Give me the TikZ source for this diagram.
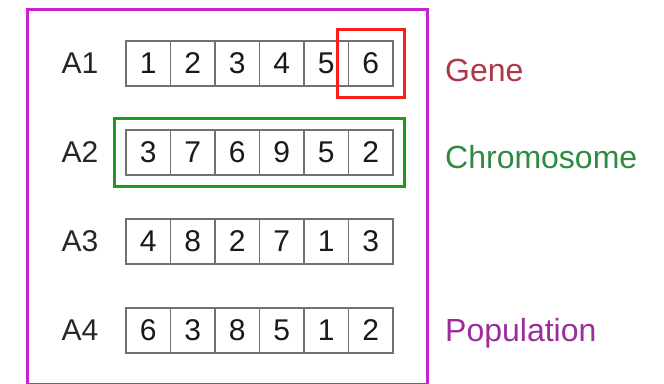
\documentclass[tikz,border=0pt]{standalone}
\usepackage{fontspec}
\setmainfont{Liberation Sans}
\usepackage{tikz}
\usetikzlibrary{positioning,fit}
\definecolor{popline}{HTML}{C823CC}
\definecolor{geneline}{HTML}{FF1E1E}
\definecolor{chromline}{HTML}{1E9A1E}
\definecolor{cellgray}{HTML}{707070}
\definecolor{genetext}{HTML}{B0364A}
\definecolor{chromtext}{HTML}{2E8B3E}
\definecolor{poptext}{HTML}{9C2C9C}
\newcommand{\cellfont}{\fontsize{30pt}{36pt}\selectfont}
\newcommand{\tagfont}{\fontsize{32pt}{38pt}\selectfont}

\begin{document}
\begin{tikzpicture}[x=1pt,y=-1pt,
  cell/.style={draw=cellgray,line width=1.2pt,minimum width=44.5pt,minimum height=45pt,inner sep=0pt,font=\cellfont,text=black!90},
  rowlab/.style={inner sep=0pt,font=\cellfont,text=black!85},
  tag/.style={anchor=west,inner sep=0pt,font=\tagfont},
  frame/.style={draw=#1,line width=3pt,inner sep=10.5pt}]
\useasboundingbox (0,0) rectangle (664,383);
\begin{scope}
\clip (0,0) rectangle (664,383);
\draw[popline,line width=3pt] (27,9) rectangle (427,384);
\end{scope}
% the four chromosomes
\foreach \r/\vals in {1/{1,2,3,4,5,6},2/{3,7,6,9,5,2},3/{4,8,2,7,1,3},4/{6,3,8,5,1,2}} {
  \foreach \v [count=\c] in \vals {
    \node[cell] (c\r\c) at ({148.3+44.5*(\c-1)},{63.5+89*(\r-1)}) {\v};
  }
  \node[rowlab,left=27pt of c\r1] (a\r) {A\r};
}
\node[frame=geneline,fit=(c16)] (gene) {};
\node[frame=chromline,fit=(c21)(c26)] (chrom) {};
\node[tag,text=genetext] (genelab) at (445,70) {Gene};
\node[tag,text=chromtext] (chromlab) at (445,157) {Chromosome};
\node[tag,text=poptext] (poplab) at (445,333) {Population};
\end{tikzpicture}
\end{document}
